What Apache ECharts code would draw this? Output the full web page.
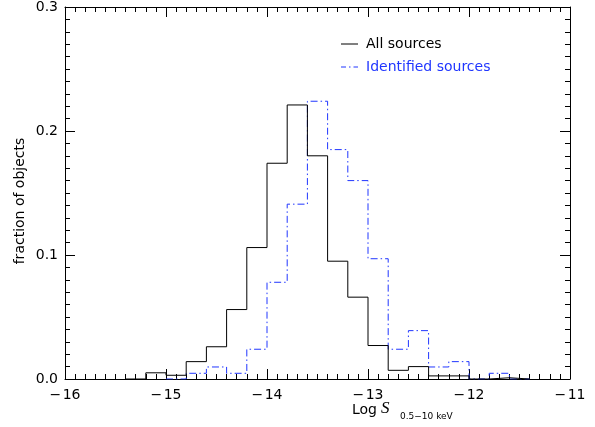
<!DOCTYPE html>
<html><head><meta charset="utf-8">
<script src="https://cdn.jsdelivr.net/npm/echarts@6/dist/echarts.min.js"></script>
<style>html,body{margin:0;padding:0;background:#fff}#c{width:595px;height:427px}</style>
</head><body><div id="c"></div>
<script>
// Bin left edges (log flux), width 0.2
const binStarts = [-15.4,-15.2,-15.0,-14.8,-14.6,-14.4,-14.2,-14.0,-13.8,-13.6,-13.4,-13.2,-13.0,-12.8,-12.6,-12.4,-12.2,-12.0,-11.8,-11.6];
const binWidth = 0.2;
const allSources = [0,0.005,0.003,0.014,0.026,0.056,0.106,0.174,0.221,0.180,0.095,0.066,0.027,0.007,0.010,0.0025,0.0025,0,0.001,0];
const identified = [null,null,0,0.0046,0.0097,0.0046,0.024,0.078,0.141,0.224,0.185,0.160,0.097,0.024,0.039,0.0097,0.014,0,0.0046,0];
const xTicks = [-16,-15,-14,-13,-12,-11];
const yTicks = [0.0,0.1,0.2,0.3];
const blue = '#2036ff';
const FONT = 'DejaVu Sans';

function stepData(vals){
  const out=[];
  let last=null;
  for(let i=0;i<binStarts.length;i++){
    if(vals[i]===null) continue;
    out.push([binStarts[i], vals[i]]);
    last=i;
  }
  out.push([binStarts[last]+binWidth, vals[last]]);
  return out;
}
const chart = echarts.init(document.getElementById('c'), null, {renderer:'canvas'});
const xMin = xTicks[0], xMax = xTicks[xTicks.length-1];
const yMin = yTicks[0], yMax = yTicks[yTicks.length-1];
function axis(kind, pos, interval, len, showLine, label){
  const a = {type:'value',position:pos,interval:interval,
    min: kind==='x'?xMin:yMin, max: kind==='x'?xMax:yMax,
    axisLine:{show:showLine,onZero:false,lineStyle:{color:'#000',width:1}},
    axisTick:{show:true,inside:true,length:len,lineStyle:{color:'#000',width:1}},
    minorTick:{show:false},
    splitLine:{show:false},
    axisLabel:{show:false}
  };
  if(label) Object.assign(a, label);
  return a;
}
chart.setOption({
  animation:false,
  grid:{left:65,right:25,top:7,bottom:48},
  xAxis:[
    axis('x','bottom',1,10,true,{axisLabel:{show:true,margin:9,color:'#000',fontFamily:FONT,fontSize:14,
        formatter:v=>(v<0?'\u2212\u200a':'')+Math.abs(v)}}),
    axis('x','top',1,10,true),
    axis('x','bottom',0.1,5,false),
    axis('x','top',0.1,5,false)
  ],
  yAxis:[
    axis('y','left',0.1,10,true,{
      axisLabel:{show:true,margin:7,color:'#000',fontFamily:FONT,fontSize:14,formatter:v=>v.toFixed(1)}}),
    axis('y','right',0.1,10,true),
    axis('y','left',0.01,5,false),
    axis('y','right',0.01,5,false)
  ],
  series:[
    {name:'All sources',type:'line',step:'end',showSymbol:false,symbol:'none',
      data:stepData(allSources),lineStyle:{color:'#000',width:1},z:3},
    {name:'Identified sources',type:'line',step:'end',showSymbol:false,symbol:'none',
      data:stepData(identified),lineStyle:{color:blue,width:1,type:[7,3,1.5,3]},z:2}
  ],
  graphic:[
    {type:'text',x:20,y:201,rotation:Math.PI/2,style:{text:'fraction of objects',fill:'#000',font:'14px "'+FONT+'"',textAlign:'center',textVerticalAlign:'middle'}},
    {type:'line',shape:{x1:341,y1:44,x2:358,y2:44},style:{stroke:'#000',lineWidth:1}},
    {type:'text',x:366,y:44,style:{text:'All sources',fill:'#000',font:'14px "'+FONT+'"',textVerticalAlign:'middle'}},
    {type:'line',shape:{x1:341,y1:67,x2:358,y2:67},style:{stroke:blue,lineWidth:1,lineDash:[5,3,1.5,3]}},
    {type:'text',x:366,y:67,style:{text:'Identified sources',fill:blue,font:'14px "'+FONT+'"',textVerticalAlign:'middle'}},
    {type:'text',x:352,y:410,style:{text:'Log',fill:'#000',font:'14px "'+FONT+'"',textVerticalAlign:'middle'}},
    {type:'text',x:381,y:409,style:{text:'S',fill:'#000',font:'italic 17px "Liberation Serif"',textVerticalAlign:'middle'}},
    {type:'text',x:400,y:417,style:{text:'0.5\u221210 keV',fill:'#000',font:'9px "'+FONT+'"',textVerticalAlign:'middle'}}
  ]
});
</script></body></html>
